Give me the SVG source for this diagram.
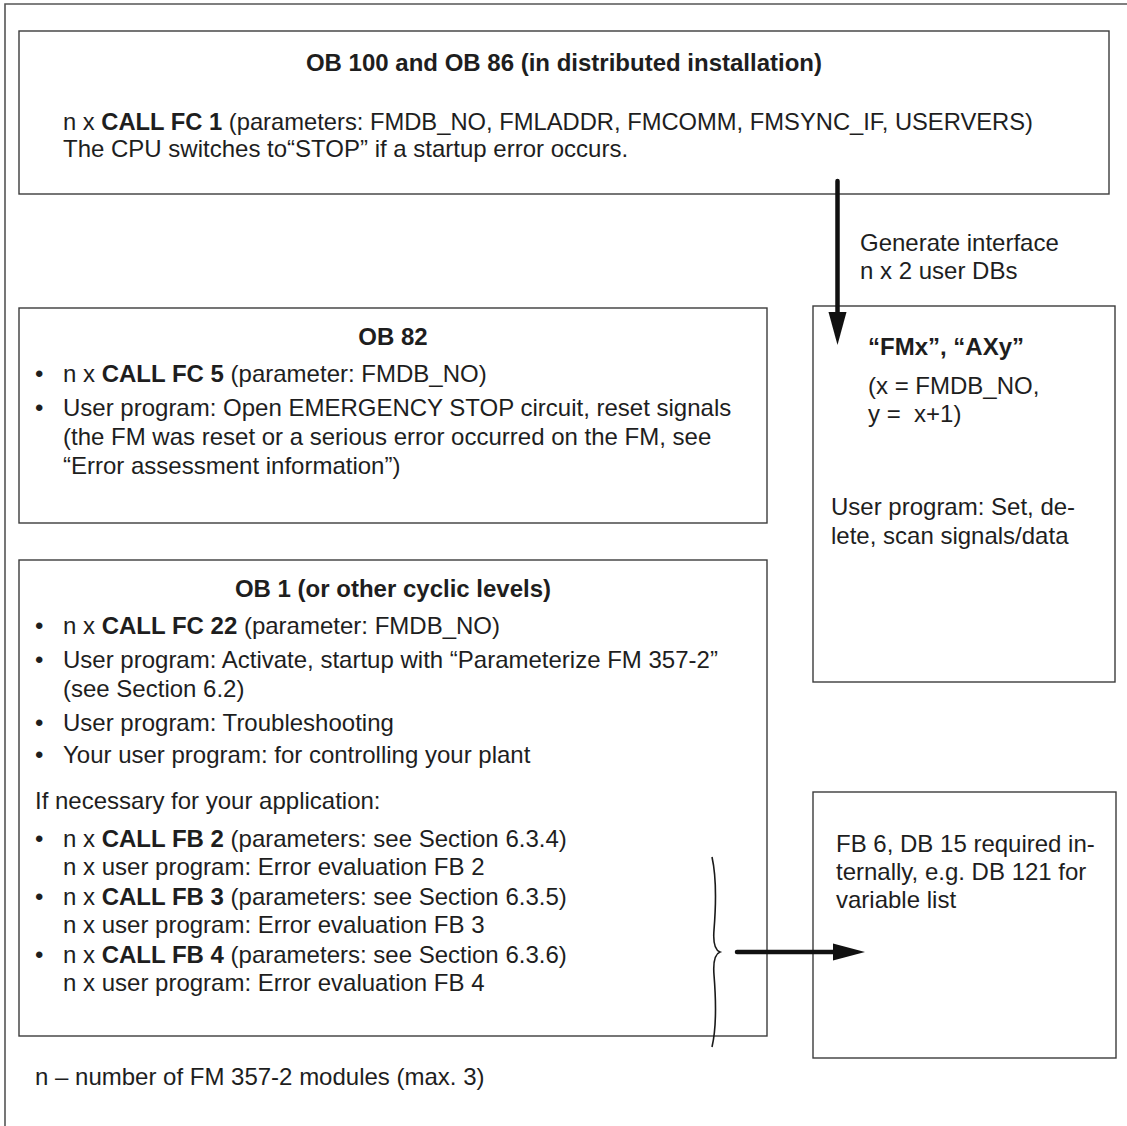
<svg xmlns="http://www.w3.org/2000/svg" width="1127" height="1126" viewBox="0 0 1127 1126">
  <defs>
    <style>
      text { font-family: "Liberation Sans", Arial, Helvetica, sans-serif; font-size: 24px; fill: #1e1e1e; }
      .b { font-weight: bold; }
      .c { text-anchor: middle; }
      .box { fill: #ffffff; stroke: #3c3c3c; stroke-width: 1.4; }
      .frame { fill: none; stroke: #555555; stroke-width: 1.6; }
      .flow { stroke: #111111; stroke-width: 4.5; stroke-linecap: round; fill: none; }
      .head { fill: #111111; }
      .brace { fill: none; stroke: #1a1a1a; stroke-width: 1.6; }
    </style>
  </defs>
  <rect width="1127" height="1126" fill="#ffffff"/>

  <!-- outer frame: only the left and top edges lie inside the page -->
  <path class="frame" d="M5,1126 V4 H1127"/>

  <!-- startup OBs -->
  <g id="ob100">
    <rect class="box" x="19" y="31" width="1090" height="163"/>
    <text class="b c" x="564" y="71">OB 100 and OB 86 (in distributed installation)</text>
    <text x="63" y="130" textLength="970" lengthAdjust="spacingAndGlyphs">n x <tspan class="b">CALL FC 1</tspan> (parameters: FMDB_NO, FMLADDR, FMCOMM, FMSYNC_IF, USERVERS)</text>
    <text x="63" y="157">The CPU switches to“STOP” if a startup error occurs.</text>
  </g>

  <!-- diagnostic interrupt OB -->
  <g id="ob82">
    <rect class="box" x="19" y="308" width="748" height="215"/>
    <text class="b c" x="393" y="345">OB 82</text>
    <text x="35" y="382">•</text>
    <text x="63" y="382">n x <tspan class="b">CALL FC 5</tspan> (parameter: FMDB_NO)</text>
    <text x="35" y="416">•</text>
    <text x="63" y="416">User program: Open EMERGENCY STOP circuit, reset signals</text>
    <text x="63" y="445">(the FM was reset or a serious error occurred on the FM, see</text>
    <text x="63" y="474">“Error assessment information”)</text>
  </g>

  <!-- user data blocks -->
  <g id="userdb">
    <rect class="box" x="813" y="306" width="302" height="376"/>
    <text class="b" x="868" y="355">“FMx”, “AXy”</text>
    <text x="868" y="394">(x = FMDB_NO,</text>
    <text x="868" y="422" xml:space="preserve">y =  x+1)</text>
    <text x="831" y="515">User program: Set, de-</text>
    <text x="831" y="544">lete, scan signals/data</text>
  </g>

  <!-- cyclic OBs -->
  <g id="ob1">
    <rect class="box" x="19" y="560" width="748" height="476"/>
    <text class="b c" x="393" y="597">OB 1 (or other cyclic levels)</text>
    <text x="35" y="634">•</text>
    <text x="63" y="634">n x <tspan class="b">CALL FC 22</tspan> (parameter: FMDB_NO)</text>
    <text x="35" y="668">•</text>
    <text x="63" y="668">User program: Activate, startup with “Parameterize FM 357-2”</text>
    <text x="63" y="697">(see Section 6.2)</text>
    <text x="35" y="731">•</text>
    <text x="63" y="731">User program: Troubleshooting</text>
    <text x="35" y="763">•</text>
    <text x="63" y="763">Your user program: for controlling your plant</text>
    <text x="35" y="809">If necessary for your application:</text>
    <text x="35" y="847">•</text>
    <text x="63" y="847">n x <tspan class="b">CALL FB 2</tspan> (parameters: see Section 6.3.4)</text>
    <text x="63" y="875">n x user program: Error evaluation FB 2</text>
    <text x="35" y="905">•</text>
    <text x="63" y="905">n x <tspan class="b">CALL FB 3</tspan> (parameters: see Section 6.3.5)</text>
    <text x="63" y="933">n x user program: Error evaluation FB 3</text>
    <text x="35" y="963">•</text>
    <text x="63" y="963">n x <tspan class="b">CALL FB 4</tspan> (parameters: see Section 6.3.6)</text>
    <text x="63" y="991">n x user program: Error evaluation FB 4</text>
  </g>

  <!-- internal blocks -->
  <g id="internal">
    <rect class="box" x="813" y="792" width="303" height="266"/>
    <text x="836" y="852">FB 6, DB 15 required in-</text>
    <text x="836" y="880">ternally, e.g. DB 121 for</text>
    <text x="836" y="908">variable list</text>
  </g>

  <!-- connectors -->
  <g id="connectors">
    <line class="flow" x1="837.5" y1="181" x2="837.5" y2="316"/>
    <polygon class="head" points="828.5,312 846.5,312 837.5,345"/>
    <text x="860" y="251">Generate interface</text>
    <text x="860" y="279">n x 2 user DBs</text>

    <path class="brace" d="M712,857 C716,875 716,905 714,930 C713,942 715,950 720,952 C715,954 713,962 714,975 C716,1000 716,1030 712,1047"/>
    <line class="flow" x1="737" y1="952" x2="836" y2="952"/>
    <polygon class="head" points="833,943.5 833,960.5 865,952"/>
  </g>

  <text x="35" y="1085">n – number of FM 357-2 modules (max. 3)</text>
</svg>
